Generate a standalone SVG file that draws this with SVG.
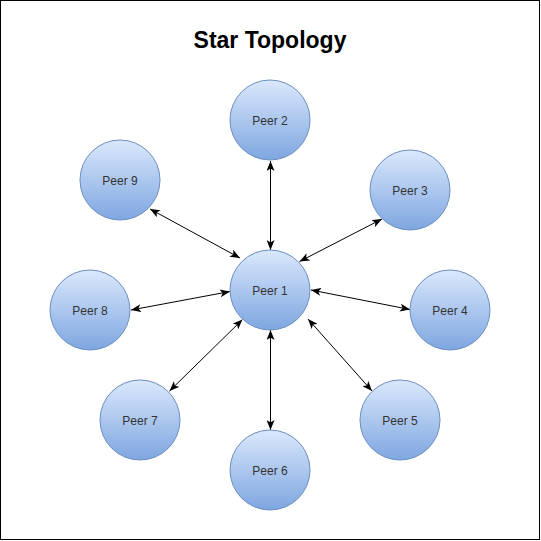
<svg xmlns="http://www.w3.org/2000/svg" width="541" height="541" viewBox="0 0 541 541">
<defs>
<linearGradient id="g" x1="0" y1="0" x2="0" y2="1">
<stop offset="0" stop-color="#dae8fc"/>
<stop offset="1" stop-color="#7ea6e0"/>
</linearGradient>
<marker id="ar" viewBox="0 0 10 8" refX="10" refY="4" markerWidth="10" markerHeight="8" markerUnits="userSpaceOnUse" orient="auto-start-reverse">
<path d="M0,0 L10,4 L0,8 L2.5,4 Z" fill="#000"/>
</marker>
<style>
.n circle{fill:url(#g);stroke:#6c8ebf;stroke-width:1}
.n text{font-family:"Liberation Sans",Arial,sans-serif;font-size:12px;fill:#333333;text-anchor:middle}
#connectors line{stroke:#000;stroke-width:1;marker-start:url(#ar);marker-end:url(#ar)}
</style>
</defs>
<rect x="0.5" y="0.5" width="539" height="539" fill="#fff" stroke="#000" stroke-width="1"/>
<text x="270" y="48" font-family="'Liberation Sans',Arial,sans-serif" font-size="23" font-weight="bold" text-anchor="middle" fill="#000">Star Topology</text>
<g id="connectors">
<line x1="270.5" y1="250" x2="270.5" y2="161"/>
<line x1="299.5" y1="261.5" x2="382" y2="219"/>
<line x1="311" y1="290" x2="410" y2="309.5"/>
<line x1="308" y1="319" x2="372" y2="391"/>
<line x1="270.5" y1="330" x2="270.5" y2="430"/>
<line x1="242.5" y1="319.5" x2="169.5" y2="391"/>
<line x1="230" y1="291.5" x2="131" y2="310"/>
<line x1="240" y1="258" x2="150" y2="209"/>
</g>
<g id="peer1" class="n"><circle cx="270" cy="290" r="40"/><text x="270" y="294.5">Peer 1</text></g>
<g id="peer2" class="n"><circle cx="270" cy="120" r="40"/><text x="270" y="124.5">Peer 2</text></g>
<g id="peer3" class="n"><circle cx="410" cy="190" r="40"/><text x="410" y="194.5">Peer 3</text></g>
<g id="peer4" class="n"><circle cx="450" cy="310" r="40"/><text x="450" y="314.5">Peer 4</text></g>
<g id="peer5" class="n"><circle cx="400" cy="420" r="40"/><text x="400" y="424.5">Peer 5</text></g>
<g id="peer6" class="n"><circle cx="270" cy="470" r="40"/><text x="270" y="474.5">Peer 6</text></g>
<g id="peer7" class="n"><circle cx="140" cy="420" r="40"/><text x="140" y="424.5">Peer 7</text></g>
<g id="peer8" class="n"><circle cx="90" cy="310" r="40"/><text x="90" y="314.5">Peer 8</text></g>
<g id="peer9" class="n"><circle cx="120" cy="180" r="40"/><text x="120" y="184.5">Peer 9</text></g>
</svg>
